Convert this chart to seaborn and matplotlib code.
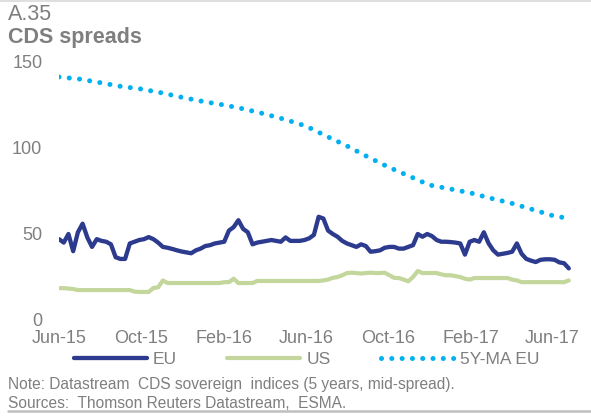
import pandas as pd
import numpy as np
import matplotlib.pyplot as plt
import matplotlib.dates as mdates
from matplotlib.lines import Line2D
import seaborn as sns

# Weekly readings, Jun-2015 to Jun-2017
eu_values = [
    47, 45, 50, 40, 51, 56, 48, 42.5, 47, 46,
    45.5, 44, 36.5, 35.5, 35.5, 44.5, 45.5, 46.5, 47, 48.2,
    47, 45, 42.5, 42, 41.3, 40.5, 39.8, 39.3, 38.8, 40.5,
    41.5, 43, 43.5, 44.5, 45, 45.5, 52, 54, 58, 53,
    51, 44, 45, 45.5, 46, 46.5, 46, 45.5, 48, 46,
    46, 46, 46.5, 47.5, 49.5, 60, 59, 52, 50, 48.4,
    46, 44.5, 43.5, 42.5, 44, 43, 39.7, 40, 40.5, 42,
    42.5, 42.5, 41.5, 41.5, 42.5, 43.5, 50, 48.4, 50, 48.8,
    46.5, 45.5, 45.5, 45.3, 45, 44.5, 38, 45.5, 46.5, 45.5,
    51, 44.6, 40.5, 38, 38.5, 39, 39.7, 44.5, 38.5, 35.5,
    34.5, 33.7, 35, 35.3, 35.3, 35, 33.5, 33, 30,
]
us_values = [
    18.5, 18.5, 18.3, 18, 17.4, 17.4, 17.4, 17.4, 17.4, 17.4,
    17.4, 17.4, 17.4, 17.4, 17.4, 17.4, 16.5, 16.3, 16.3, 16.3,
    18.6, 19, 23, 21.5, 21.5, 21.5, 21.5, 21.5, 21.5, 21.5,
    21.5, 21.5, 21.5, 21.5, 21.5, 22, 22, 24, 21.5, 21.5,
    21.5, 21.5, 22.7, 22.7, 22.7, 22.7, 22.7, 22.7, 22.7, 22.7,
    22.7, 22.7, 22.7, 22.7, 22.7, 22.7, 23, 23.5, 24.5, 25,
    26, 27.3, 27.5, 27.3, 27, 27.3, 27.5, 27.3, 27.3, 27.5,
    26, 24.5, 24.4, 23.5, 22.5, 25, 28.5, 27.3, 27.3, 27.3,
    27.3, 26.5, 26, 26, 25.5, 25, 24, 23.5, 24.4, 24.4,
    24.4, 24.4, 24.4, 24.4, 24.4, 24.4, 23.5, 23, 22, 22,
    22, 22, 22, 22, 22, 22, 22, 22, 23,
]
# Monthly readings of the 5-year moving average
ma_values = [
    141.3, 140.1, 138, 135.8, 134.3, 132, 129.4, 127, 125, 122.7,
    119.8, 116.6, 112.8, 107, 101.2, 94.8, 89, 83.7, 78.5, 76.2,
    73.8, 70.9, 68, 64.5, 60.8, 59,
]

weeks = pd.date_range('2015-06-01', periods=len(eu_values), freq='7D')
months = pd.date_range('2015-06-01', '2017-06-01', freq='MS').append(pd.DatetimeIndex(['2017-06-26']))

df = pd.DataFrame({'date': weeks, 'EU': eu_values, 'US': us_values})
df_ma = pd.DataFrame({'date': months, '5Y-MA EU': ma_values})

sns.set_theme(style='white')
plt.rcParams['font.family'] = ['Liberation Sans', 'DejaVu Sans']

grey = '#7f7f7f'
c_eu = '#2d3b8e'
c_us = '#c3d69b'
c_ma = '#00b0f0'

fig = plt.figure(figsize=(5.91, 4.16), dpi=100)
ax = fig.add_axes([59 / 591, 1 - 320 / 416, (571.5 - 59) / 591, (320 - 62) / 416])

sns.lineplot(data=df, x='date', y='EU', ax=ax, color=c_eu, linewidth=3.1, label='EU')
sns.lineplot(data=df, x='date', y='US', ax=ax, color=c_us, linewidth=3.0, label='US')
sns.lineplot(data=df_ma, x='date', y='5Y-MA EU', ax=ax, color=c_ma, linewidth=3.6,
             label='5Y-MA EU', dashes=False)
ax.lines[-1].set_dashes((0.01, 2.05))
ax.lines[-1].set_dash_capstyle('round')

ax.set_xlim(pd.Timestamp('2015-06-01'), pd.Timestamp('2017-06-30'))
ax.set_ylim(0, 150)
ax.set_yticks([0, 50, 100, 150])
ax.xaxis.set_major_locator(mdates.MonthLocator(bymonth=[2, 6, 10]))
ax.xaxis.set_major_formatter(mdates.DateFormatter('%b-%y'))
ax.set_xlabel('')
ax.set_ylabel('')
ax.tick_params(axis='x', length=0, pad=7, labelsize=13, labelcolor=grey)
ax.tick_params(axis='y', length=0, pad=12, labelsize=13, labelcolor=grey)
for s in ax.spines.values():
    s.set_visible(False)
ax.patch.set_alpha(0)

ax.get_legend().remove()
handles, labels = ax.get_legend_handles_labels()
fig.legend(handles, labels, loc='center left', bbox_to_anchor=(74 / 591, 1 - 359 / 416),
           ncol=3, frameon=False, borderpad=0, borderaxespad=0, handlelength=4.2,
           handletextpad=0.35, columnspacing=2.9, fontsize=12.5, labelcolor=grey)

fig.text(8 / 591, 1 - 15 / 416, 'A.35', fontsize=15.5, color=grey, va='center', ha='left')
fig.text(8 / 591, 1 - 38 / 416, 'CDS spreads', fontsize=15.5, color=grey, va='center',
         ha='left', fontweight='bold')
fig.text(8 / 591, 1 - 385 / 416, 'Note: Datastream  CDS sovereign  indices (5 years, mid-spread).',
         fontsize=11.2, color=grey, va='center', ha='left')
fig.text(8 / 591, 1 - 403 / 416, 'Sources:  Thomson Reuters Datastream,  ESMA.',
         fontsize=11.2, color=grey, va='center', ha='left')

fig.add_artist(Line2D([0, 1], [0.998, 0.998], color='#d9d9d9', linewidth=1.2,
                      transform=fig.transFigure))
fig.add_artist(Line2D([8 / 591, 1], [1 - 411 / 416] * 2, color='#bfbfbf', linewidth=1.8,
                      transform=fig.transFigure))

fig.savefig('out.png', dpi=100)
